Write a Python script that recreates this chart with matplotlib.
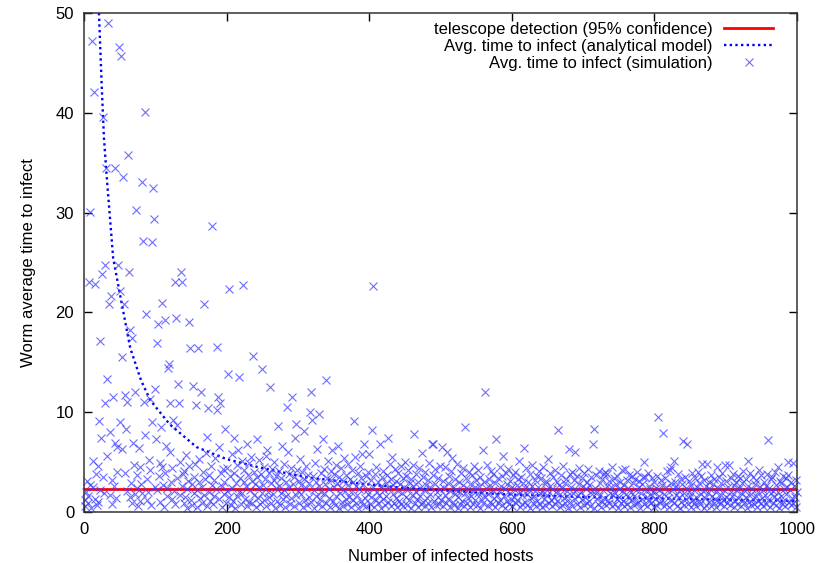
import numpy as np
import matplotlib
matplotlib.use("Agg")
import matplotlib.pyplot as plt

plt.rcParams['font.family'] = ['Liberation Sans', 'DejaVu Sans']

# simulated average time to infect, one value per number of infected hosts (1..1000)
sim_times = [
    1.2, 0.6, 2.0, 3.1, 0.9, 1.6, 23.0, 30.1, 2.7, 0.4,
    47.2, 5.1, 2.5, 42.1, 22.8, 1.3, 3.8, 0.7, 4.6, 1.0,
    9.1, 17.1, 2.2, 7.4, 23.8, 3.5, 39.6, 1.9, 24.7, 10.9,
    34.5, 13.3, 5.6, 49.0, 20.8, 1.7, 8.0, 21.6, 3.2, 0.8,
    11.5, 2.6, 6.9, 34.5, 1.4, 4.0, 6.5, 24.7, 46.6, 22.1,
    9.0, 45.7, 15.5, 6.3, 33.6, 20.8, 3.9, 11.7, 8.3, 2.1,
    11.0, 35.8, 24.0, 1.5, 18.2, 2.9, 17.4, 0.9, 6.9, 4.7,
    1.8, 12.0, 30.3, 3.7, 2.4, 0.6, 6.4, 1.1, 4.5, 2.8,
    33.1, 1.9, 27.2, 11.0, 7.7, 40.1, 19.8, 3.3, 1.2, 2.0,
    5.2, 4.2, 11.3, 0.7, 27.1, 9.0, 32.5, 29.4, 2.5, 12.3,
    7.3, 16.9, 2.2, 18.8, 3.6, 1.0, 4.9, 8.5, 20.9, 4.5,
    2.7, 0.5, 3.9, 19.2, 6.6, 1.6, 2.4, 14.4, 14.8, 10.9,
    6.0, 3.0, 1.3, 4.4, 9.2, 2.1, 0.8, 23.0, 19.4, 8.7,
    3.4, 12.8, 10.9, 1.7, 5.0, 24.0, 23.0, 2.6, 3.8, 0.9,
    4.1, 1.5, 5.7, 2.3, 0.4, 3.1, 19.0, 4.6, 16.4, 1.2,
    2.8, 0.7, 12.6, 3.5, 1.9, 4.8, 10.7, 2.2, 0.5, 16.4,
    3.0, 5.3, 1.4, 12.0, 2.5, 0.9, 4.0, 20.8, 1.7, 3.3,
    5.9, 0.6, 7.5, 10.4, 2.0, 3.7, 1.1, 4.6, 2.7, 28.7,
    0.8, 3.2, 1.6, 5.4, 2.3, 10.2, 16.5, 11.5, 6.5, 1.3,
    10.9, 3.9, 0.5, 2.6, 4.3, 1.8, 3.0, 8.3, 0.9, 2.1,
    4.4, 13.8, 22.3, 1.5, 3.6, 0.7, 5.8, 2.4, 1.1, 7.4,
    3.9, 0.4, 2.9, 4.7, 1.6, 6.2, 13.5, 2.0, 3.4, 0.8,
    5.1, 1.9, 22.7, 3.0, 4.2, 1.3, 2.6, 0.6, 6.8, 3.7,
    1.0, 4.9, 2.2, 5.5, 0.9, 3.1, 15.6, 1.7, 4.0, 2.8,
    0.5, 3.5, 7.3, 1.4, 2.5, 5.2, 0.8, 3.8, 1.9, 14.3,
    2.7, 4.5, 1.2, 3.3, 0.6, 5.6, 6.2, 2.0, 3.9, 1.5,
    12.5, 2.9, 0.9, 4.3, 1.8, 3.2, 5.0, 0.4, 2.4, 3.6,
    1.1, 8.6, 2.6, 4.1, 0.7, 1.9, 3.4, 6.6, 1.3, 2.2,
    4.8, 0.5, 3.0, 1.6, 10.5, 6.0, 2.5, 3.8, 0.8, 4.4,
    1.4, 11.5, 2.8, 3.5, 0.6, 7.4, 8.8, 1.7, 4.2, 2.1,
    3.1, 0.9, 5.3, 1.8, 2.7, 4.0, 0.5, 3.3, 8.1, 1.2,
    2.4, 4.6, 0.7, 3.7, 1.5, 2.9, 10.0, 12.0, 1.0, 9.2,
    3.6, 0.4, 2.2, 4.9, 1.6, 3.0, 6.3, 0.8, 2.6, 9.8,
    1.3, 3.9, 2.0, 0.6, 7.3, 4.3, 1.9, 2.8, 13.2, 0.9,
    3.4, 5.1, 1.4, 2.3, 0.5, 4.1, 3.2, 6.2, 1.1, 2.5,
    3.8, 0.7, 4.7, 1.6, 2.9, 6.6, 0.4, 3.5, 1.9, 2.4,
    4.4, 1.0, 3.1, 0.6, 5.4, 2.1, 1.3, 3.7, 0.8, 4.8,
    2.7, 1.5, 3.3, 0.5, 2.0, 4.2, 1.2, 3.0, 9.1, 5.5,
    0.9, 2.6, 1.7, 3.9, 0.4, 2.3, 4.6, 1.1, 3.4, 5.8,
    0.7, 2.8, 6.8, 1.4, 3.6, 0.6, 2.2, 4.0, 1.8, 5.8,
    0.8, 3.2, 1.5, 8.2, 22.6, 2.5, 0.5, 3.8, 1.2, 4.5,
    2.0, 0.9, 3.0, 1.7, 6.8, 2.6, 0.4, 3.5, 1.3, 4.1,
    2.2, 0.7, 2.9, 1.6, 3.7, 7.4, 1.0, 2.4, 4.8, 0.6,
    3.3, 5.5, 1.8, 2.7, 0.9, 4.3, 1.4, 3.1, 0.5, 2.1,
    3.9, 1.1, 2.8, 4.6, 0.8, 1.9, 3.4, 0.6, 2.5, 5.0,
    1.5, 3.6, 0.7, 2.3, 4.2, 1.2, 2.9, 0.4, 3.3, 1.7,
    2.6, 4.7, 7.8, 0.9, 2.0, 3.8, 1.3, 0.5, 3.0, 4.4,
    1.6, 2.4, 0.8, 5.9, 3.5, 1.0, 2.2, 4.0, 0.6, 2.7,
    1.4, 3.2, 0.9, 4.9, 1.8, 2.5, 0.5, 6.8, 3.7, 6.8,
    1.1, 2.8, 4.3, 0.7, 2.0, 3.4, 1.5, 0.8, 4.6, 2.3,
    1.2, 6.5, 3.1, 0.6, 2.4, 4.5, 1.7, 0.9, 6.0, 2.9,
    1.3, 3.6, 0.5, 2.1, 4.1, 5.4, 1.0, 2.6, 0.7, 3.3,
    1.8, 2.2, 4.8, 0.4, 1.5, 3.0, 2.0, 0.8, 3.9, 1.1,
    2.7, 4.4, 0.6, 8.5, 1.9, 3.4, 0.9, 2.3, 1.4, 4.0,
    2.8, 0.5, 1.6, 3.7, 2.1, 0.8, 4.6, 1.2, 2.5, 3.2,
    0.7, 1.9, 4.2, 2.6, 0.4, 3.5, 1.3, 2.0, 0.9, 6.2,
    3.0, 12.0, 1.5, 2.4, 4.7, 0.6, 1.8, 3.3, 1.0, 2.7,
    4.1, 0.8, 2.2, 3.8, 1.4, 0.5, 2.9, 7.3, 1.7, 3.4,
    0.9, 2.1, 4.5, 1.2, 2.6, 0.7, 3.6, 5.6, 1.6, 2.3,
    0.4, 3.9, 1.1, 2.8, 4.3, 0.8, 1.9, 3.1, 1.3, 2.5,
    0.6, 3.7, 1.5, 2.2, 4.0, 0.9, 2.7, 1.2, 3.3, 5.1,
    0.5, 2.0, 3.5, 1.7, 0.8, 2.9, 6.4, 1.0, 2.4, 4.4,
    0.7, 1.8, 3.0, 2.3, 0.4, 3.8, 1.4, 2.6, 4.7, 0.9,
    1.6, 3.2, 2.1, 0.6, 3.6, 1.1, 2.5, 4.1, 0.8, 1.9,
    3.4, 2.0, 0.5, 4.5, 1.3, 2.8, 0.7, 3.1, 1.7, 2.2,
    5.3, 0.9, 2.6, 3.9, 1.2, 0.6, 2.3, 3.5, 1.5, 4.2,
    0.8, 2.0, 3.0, 1.1, 8.2, 2.7, 0.5, 1.8, 3.7, 2.4,
    0.7, 4.6, 1.4, 2.9, 0.9, 3.3, 1.6, 2.1, 0.4, 6.3,
    3.8, 1.0, 2.5, 4.0, 0.6, 1.9, 3.2, 6.0, 1.3, 2.2,
    0.8, 3.6, 1.7, 2.8, 4.4, 0.5, 2.0, 3.4, 1.2, 2.6,
    0.7, 3.9, 1.5, 2.3, 0.9, 3.0, 4.3, 1.1, 2.7, 0.6,
    3.5, 1.8, 2.1, 6.8, 8.3, 0.4, 2.4, 3.7, 1.3, 2.0,
    0.8, 4.1, 1.6, 2.9, 0.5, 3.3, 1.0, 2.2, 3.8, 1.4,
    4.0, 0.7, 3.8, 2.6, 1.2, 0.9, 3.1, 1.9, 2.5, 4.5,
    0.6, 1.7, 3.4, 2.0, 0.8, 2.8, 1.3, 3.6, 0.4, 2.3,
    1.5, 3.0, 0.9, 2.1, 4.2, 1.1, 2.7, 0.6, 4.3, 1.8,
    3.2, 0.8, 2.4, 1.4, 3.7, 0.5, 2.0, 3.6, 1.2, 2.9,
    0.7, 1.6, 3.3, 2.2, 0.9, 4.0, 1.0, 2.5, 3.1, 0.4,
    1.9, 2.8, 1.3, 3.5, 5.0, 0.8, 3.5, 2.1, 1.5, 0.6,
    3.9, 2.6, 1.1, 2.3, 0.9, 3.4, 1.7, 2.0, 0.5, 3.0,
    1.3, 2.4, 0.7, 3.6, 9.5, 1.6, 2.2, 0.9, 3.2, 1.1,
    2.7, 7.9, 0.6, 1.8, 3.4, 2.5, 0.8, 4.1, 1.4, 2.0,
    0.5, 4.2, 2.9, 4.5, 1.2, 2.3, 5.1, 0.9, 3.0, 1.7,
    2.6, 0.6, 3.8, 1.5, 2.1, 0.4, 3.3, 1.0, 2.8, 7.1,
    1.9, 0.7, 3.5, 2.4, 1.3, 6.8, 0.8, 2.0, 3.1, 1.6,
    0.5, 2.7, 3.9, 1.2, 2.2, 0.9, 3.4, 1.5, 0.6, 2.5,
    4.0, 1.1, 2.9, 0.8, 3.6, 1.8, 4.8, 2.1, 0.4, 3.2,
    1.4, 2.6, 0.7, 4.8, 1.9, 3.0, 1.0, 2.3, 0.6, 3.7,
    1.6, 2.8, 0.9, 3.3, 1.3, 2.0, 0.5, 4.5, 2.4, 1.1,
    3.5, 0.8, 1.7, 2.9, 3.9, 1.2, 0.6, 2.2, 4.7, 1.5,
    3.1, 0.9, 2.5, 4.7, 1.3, 0.7, 3.4, 2.0, 1.6, 3.8,
    0.5, 2.7, 1.1, 3.0, 2.2, 0.8, 3.6, 1.4, 2.4, 3.4,
    0.6, 1.9, 2.9, 1.2, 4.1, 0.9, 2.1, 3.3, 1.5, 0.4,
    5.1, 2.6, 1.0, 3.9, 1.8, 0.7, 2.3, 3.5, 1.3, 0.8,
    2.8, 1.6, 3.2, 0.5, 2.0, 1.1, 4.2, 2.5, 0.9, 3.7,
    1.4, 2.2, 0.6, 3.0, 1.7, 2.6, 0.8, 3.8, 7.2, 1.2,
    2.4, 0.5, 3.3, 1.9, 3.5, 0.9, 2.1, 1.5, 4.0, 0.7,
    2.7, 1.3, 4.5, 2.0, 0.4, 3.1, 1.6, 2.9, 0.8, 3.6,
    1.1, 2.3, 0.6, 3.4, 1.8, 2.5, 5.0, 3.7, 1.0, 2.2,
    0.7, 3.0, 1.4, 4.9, 0.9, 2.6, 1.5, 3.2, 0.5, 2.0,
]
hosts = np.arange(1, len(sim_times) + 1)

# analytical model curve
model_hosts = [21, 25, 28, 32, 41, 50, 65, 80, 93, 120, 158, 200,
               244, 310, 380, 450, 500, 580, 700, 850, 1000]
model_times = [50, 42.5, 37.5, 33.5, 25.4, 22.0, 16.4, 13.2, 11.2, 8.8, 6.5, 5.3,
               4.5, 3.5, 2.9, 2.4, 2.2, 1.8, 1.5, 1.3, 1.1]

telescope_level = 2.3

fig = plt.figure(figsize=(8.2, 5.63), dpi=100)
ax = fig.add_axes([0.1024, 0.0906, 0.8695, 0.8863])

ax.axhline(telescope_level, color='red', lw=2.0,
           label='telescope detection (95% confidence)')
ax.plot(model_hosts, model_times, color='blue', lw=1.7, linestyle=(0, (1, 1.4)),
        label='Avg. time to infect (analytical model)')
ax.plot(hosts, sim_times, linestyle='none', marker='x', ms=5.8, mew=0.8,
        color='#3d3dff', alpha=0.75, clip_on=False,
        label='Avg. time to infect (simulation)')

ax.set_xlim(0, 1000)
ax.set_ylim(0, 50)
ax.set_xticks([0, 200, 400, 600, 800, 1000])
ax.set_yticks([0, 10, 20, 30, 40, 50])
ax.tick_params(direction='in', length=6, width=1, top=True, right=True,
               labelsize=12, pad=7)
for s in ax.spines.values():
    s.set_linewidth(1.1)
    s.set_color('#333333')

ax.set_xlabel('Number of infected hosts', fontsize=12, labelpad=9)
ax.set_ylabel('Worm average time to infect', fontsize=12, labelpad=14)

ax.legend(loc='upper right', bbox_to_anchor=(0.966, 0.982), frameon=False,
          markerfirst=False, fontsize=12, borderpad=0, borderaxespad=0,
          labelspacing=0.12, handlelength=2.9, handletextpad=0.7, numpoints=1)

fig.savefig('out.png', dpi=100)
